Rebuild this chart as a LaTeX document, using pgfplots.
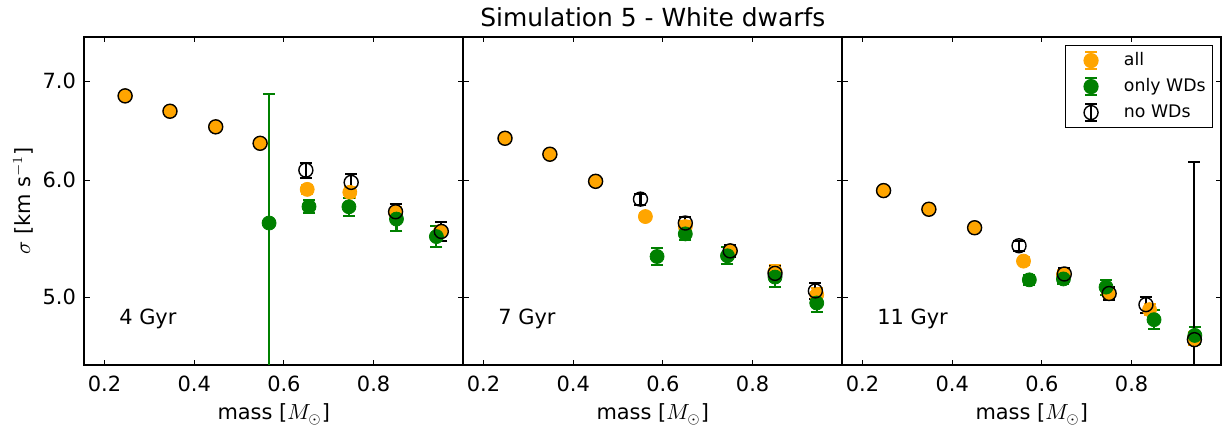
\documentclass[border=0pt]{standalone}
\usepackage{pgfplots}
\usepackage{pgfplotstable}
\pgfplotsset{compat=1.18}
\usepackage{fontspec}
\setmainfont{DejaVu Sans}
\definecolor{mplorange}{HTML}{FFA500}
\definecolor{mplgreen}{HTML}{008000}

% ---------- data: mass, sigma, error ----------
\pgfplotstableread{
m s e
0.246 6.842 0.025
0.346 6.680 0.025
0.448 6.520 0.025
0.547 6.355 0.035
0.652 5.915 0.04
0.747 5.888 0.05
0.849 5.705 0.05
0.949 5.540 0.05
}\allA
\pgfplotstableread{
m s e
0.567 5.613 1.245
0.656 5.759 0.06
0.745 5.757 0.08
0.851 5.648 0.10
0.940 5.496 0.09
}\wdA
\pgfplotstableread{
m s e
0.246 6.842 0.025
0.346 6.680 0.025
0.448 6.520 0.025
0.547 6.355 0.035
0.649 6.095 0.07
0.750 5.980 0.08
0.849 5.713 0.07
0.951 5.540 0.08
}\nowdA
\pgfplotstableread{
m s e
0.248 6.405 0.025
0.348 6.248 0.025
0.450 5.990 0.025
0.561 5.670 0.03
0.650 5.582 0.05
0.750 5.375 0.05
0.850 5.205 0.05
0.943 5.020 0.05
}\allB
\pgfplotstableread{
m s e
0.587 5.328 0.07
0.650 5.519 0.05
0.744 5.334 0.07
0.850 5.160 0.08
0.943 4.956 0.07
}\wdB
\pgfplotstableread{
m s e
0.248 6.405 0.025
0.348 6.248 0.025
0.450 5.990 0.025
0.550 5.826 0.05
0.650 5.613 0.05
0.750 5.375 0.05
0.850 5.190 0.06
0.940 5.050 0.06
}\nowdB
\pgfplotstableread{
m s e
0.247 5.904 0.025
0.348 5.735 0.025
0.450 5.572 0.025
0.559 5.290 0.03
0.648 5.178 0.04
0.749 5.033 0.05
0.840 4.905 0.04
0.940 4.690 0.05
}\allC
\pgfplotstableread{
m s e
0.572 5.138 0.04
0.648 5.145 0.04
0.743 5.080 0.06
0.850 4.829 0.07
0.941 4.712 0.06
}\wdC
\pgfplotstableread{
m s e
0.247 5.904 0.025
0.348 5.735 0.025
0.450 5.572 0.025
0.549 5.418 0.04
0.650 5.185 0.05
0.750 5.030 0.05
0.832 4.943 0.06
0.940 4.681 1.496
}\nowdC

\pgfplotsset{
  sigpanel/.style={
    width=189.5bp, height=164bp, scale only axis,
    anchor=south west,
    xmin=0.155, xmax=1.0, ymin=4.5, ymax=7.5,
    xtick={0.2,0.4,0.6,0.8},
    xticklabels={0.2,0.4,0.6,0.8},
    ytick={5,6,7},
    tick align=inside,
    major tick length=2.6bp,
    every tick/.style={black, line width=0.5bp},
    axis line style={line width=1bp},
    tick label style={font=\fontsize{10.5}{12}\selectfont},
    xticklabel style={anchor=base, yshift=-13.3bp},
    yticklabel style={inner xsep=4bp},
    every axis x label/.style={at={(axis description cs:0.5,-0.1677)}, anchor=base, font=\fontsize{10.5}{12}\selectfont},
    xlabel={mass [$M_\odot$]},
  },
  allsty/.style={only marks, mark=*, mark size=3.5bp, color=mplorange,
    mark options={draw=none, fill=mplorange},
    error bars/y dir=both, error bars/y explicit,
    error bars/error bar style={line width=1.1bp, mplorange},
    error bars/error mark options={rotate=90, mark size=3bp, line width=1bp, mplorange}},
  wdsty/.style={only marks, mark=*, mark size=3.5bp, color=mplgreen,
    mark options={draw=none, fill=mplgreen},
    error bars/y dir=both, error bars/y explicit,
    error bars/error bar style={line width=1.1bp, mplgreen},
    error bars/error mark options={rotate=90, mark size=3bp, line width=1bp, mplgreen}},
  nowdsty/.style={only marks, mark=o, mark size=3.5bp, color=black,
    mark options={draw=black, fill=none, line width=0.7bp},
    error bars/y dir=both, error bars/y explicit,
    error bars/error bar style={line width=1.1bp, black},
    error bars/error mark options={rotate=90, mark size=3bp, line width=1bp, black}},
}
\tikzset{glabel/.style={anchor=base west, font=\fontsize{10.5}{12}\selectfont}}

\begin{document}
\begin{tikzpicture}
\useasboundingbox (-42.15bp,-31.5bp) rectangle (571.35bp,182.5bp);

% ---------------- 4 Gyr ----------------
\begin{axis}[ymode=log, sigpanel, at={(0bp,0bp)},
  yticklabels={5.0,6.0,7.0},
  ylabel={$\sigma$ [km s$^{-1}$]},
  every axis y label/.style={at={(axis description cs:-0.1617,0.5)}, rotate=90, anchor=center, font=\fontsize{10.5}{12}\selectfont},
]
\addplot[allsty] table[x=m, y=s, y error=e] {\allA};
\addplot[wdsty] table[x=m, y=s, y error=e] {\wdA};
\addplot[nowdsty] table[x=m, y=s, y error=e] {\nowdA};
\node[glabel] at (rel axis cs:0.0739,0.124) {4 Gyr};
\end{axis}

% ---------------- 7 Gyr ----------------
\begin{axis}[ymode=log, sigpanel, at={(189.5bp,0bp)},
  yticklabels={},
  title={Simulation 5 - White dwarfs},
  every axis title/.style={at={(axis description cs:0.5,1.0317)}, anchor=base, font=\fontsize{12.5}{15}\selectfont},
]
\addplot[allsty] table[x=m, y=s, y error=e] {\allB};
\addplot[wdsty] table[x=m, y=s, y error=e] {\wdB};
\addplot[nowdsty] table[x=m, y=s, y error=e] {\nowdB};
\node[glabel] at (rel axis cs:0.0739,0.124) {7 Gyr};
\end{axis}

% ---------------- 11 Gyr ----------------
\begin{axis}[ymode=log, sigpanel, at={(379bp,0bp)},
  yticklabels={},
  legend style={at={(axis description cs:0.978,0.9756)}, anchor=north east,
    draw=black, line width=0.6bp, fill=white,
    inner xsep=3.35bp, inner ysep=1bp, column sep=12.6bp, row sep=0bp,
    font=\fontsize{8.7}{10}\selectfont,
    nodes={inner xsep=0bp, inner ysep=2.25bp, text height=6.5bp, text depth=2bp}},
  legend cell align=left,
]
\addlegendimage{legend image code/.code={
  \path (-9.15bp,0bp) (3.5bp,0bp);
  \draw[mplorange, line width=1bp] (0bp,-4.3bp)--(0bp,4.3bp) (-3bp,-4.3bp)--(3bp,-4.3bp) (-3bp,4.3bp)--(3bp,4.3bp);
  \fill[mplorange] (0bp,0bp) circle (3.5bp);}}
\addlegendentry{all}
\addlegendimage{legend image code/.code={
  \path (-9.15bp,0bp) (3.5bp,0bp);
  \draw[mplgreen, line width=1bp] (0bp,-4.3bp)--(0bp,4.3bp) (-3bp,-4.3bp)--(3bp,-4.3bp) (-3bp,4.3bp)--(3bp,4.3bp);
  \fill[mplgreen] (0bp,0bp) circle (3.5bp);}}
\addlegendentry{only WDs}
\addlegendimage{legend image code/.code={
  \path (-9.15bp,0bp) (3.5bp,0bp);
  \draw[black, line width=1bp] (0bp,-4.3bp)--(0bp,4.3bp) (-3bp,-4.3bp)--(3bp,-4.3bp) (-3bp,4.3bp)--(3bp,4.3bp);
  \draw[black, line width=0.7bp] (0bp,0bp) circle (3.5bp);}}
\addlegendentry{no WDs}
\addplot[allsty, forget plot] table[x=m, y=s, y error=e] {\allC};
\addplot[wdsty, forget plot] table[x=m, y=s, y error=e] {\wdC};
\addplot[nowdsty, forget plot] table[x=m, y=s, y error=e] {\nowdC};
\node[glabel] at (rel axis cs:0.0739,0.124) {11 Gyr};
\end{axis}
\end{tikzpicture}
\end{document}
